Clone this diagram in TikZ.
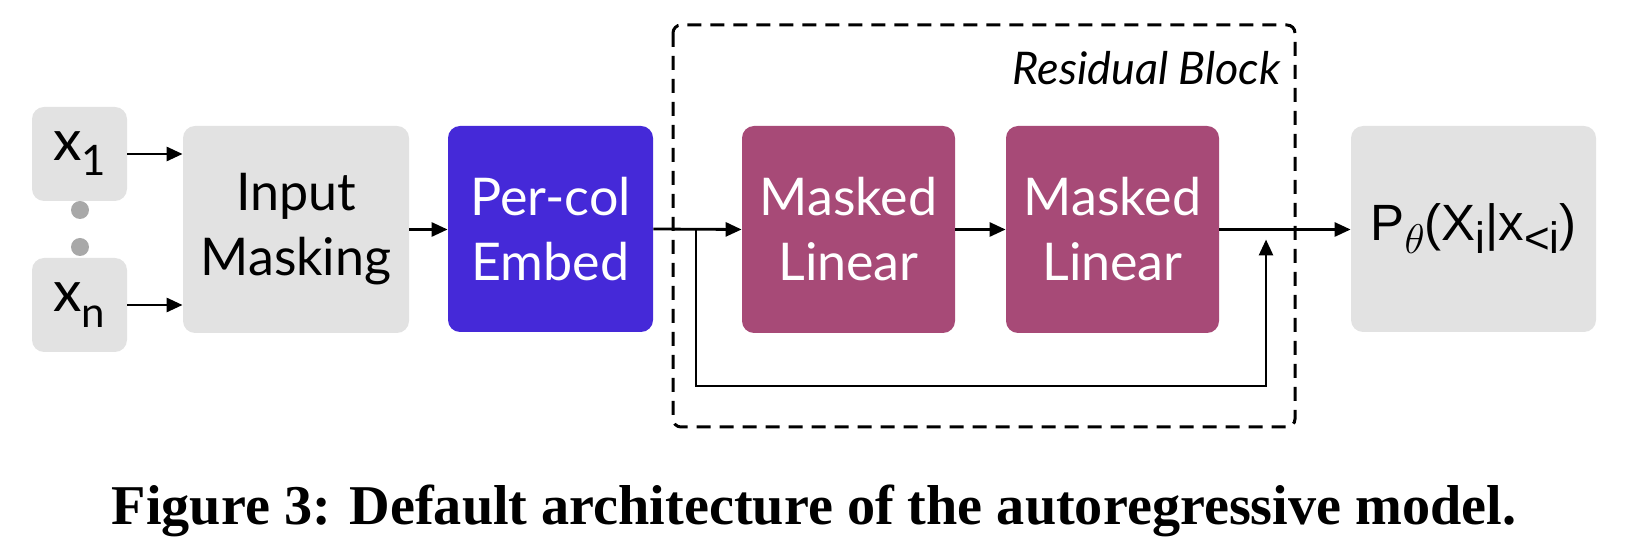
\documentclass[tikz,border=0pt]{standalone}
\usepackage{fontspec}
\setmainfont{Lato}
\newfontfamily\helv{Liberation Sans}
\newfontfamily\capfont{Liberation Serif}
\usetikzlibrary{arrows.meta}
\definecolor{boxgray}{HTML}{E2E2E2}
\definecolor{dotgray}{HTML}{A8A8A8}
\definecolor{embblue}{HTML}{4529D8}
\definecolor{mlpurple}{HTML}{A74A77}
\newcommand{\lsub}[2]{\raisebox{-#2}{\fontsize{21}{21}\selectfont #1}}
\newcommand{\osub}[1]{\raisebox{-6.5pt}{\fontsize{22}{22}\selectfont #1}}
\tikzset{
  blk/.style={rounded corners=6pt, inner sep=0pt, align=center, font=\fontsize{26}{32.5}\selectfont},
  graybox/.style={blk, fill=boxgray, text=black},
  bluebox/.style={blk, fill=embblue, text=white},
  purplebox/.style={blk, fill=mlpurple, text=white},
  conn/.style={line width=1.4pt, -{Triangle[length=8pt,width=7pt]}},
  dotc/.style={circle, fill=dotgray, inner sep=0pt, minimum size=9pt},
}
\begin{document}
\begin{tikzpicture}[x=0.5pt,y=-0.5pt]
\useasboundingbox (0,0) rectangle (1626,560);
% input boxes
\node[graybox, minimum width=47.5pt, minimum height=47pt] (x1) at (79.5,154) {\fontsize{28.5}{30}\selectfont x\lsub{1}{7.5pt}};
\node[graybox, minimum width=47.5pt, minimum height=47pt] (xn) at (79.5,305) {\fontsize{28.5}{30}\selectfont x\lsub{n}{8pt}};
\node[dotc] (d1) at (80,210) {};
\node[dotc] (d2) at (80,247) {};
\node[graybox, minimum width=113pt, minimum height=103.5pt] (mask) at (296,229.5) {Input\\Masking};
\node[bluebox, minimum width=102.5pt, minimum height=103pt] (emb) at (550.5,229) {Per-col\\Embed};
\node[purplebox, minimum width=106.5pt, minimum height=103.5pt] (ml1) at (848.5,229.5) {Masked\\Linear};
\node[purplebox, minimum width=106.5pt, minimum height=103.5pt] (ml2) at (1112.5,229.5) {Masked\\Linear};
\node[graybox, minimum width=122.5pt, minimum height=103pt] (out) at (1473.5,229) {\helv\fontsize{25.5}{28}\selectfont P\osub{$\theta$}(X\osub{i}|x\osub{<i})};
% residual block frame
\draw[line width=1.5pt, dash pattern=on 7pt off 4.5pt, rounded corners=4pt] (673,25) rectangle (1295,427);
\node[anchor=base east, inner sep=0pt, font=\fontsize{22.5}{25}\selectfont\itshape] (rb) at (1281,85) {Residual Block};
% connectors
\draw[conn] (x1.east) -- (x1.east -| mask.west);
\draw[conn] (xn.east) -- (xn.east -| mask.west);
\draw[conn] (mask.east) -- (mask.east -| emb.west);
\draw[conn] (emb.east) -- (ml1.west);
\draw[conn] (ml1.east) -- (ml2.west);
\draw[conn] (ml2.east) -- (ml2.east -| out.west);
\coordinate (br) at (696,229.5);
\coordinate (jn) at (1266,229.5);
\draw[conn, shorten >=5pt] (br) -- (696,386) -| (jn);
% caption
\node[inner sep=0pt, anchor=base] (cap) at (814,524) {\resizebox{702pt}{!}{\capfont\bfseries Figure 3: Default architecture of the autoregressive model.}};
\end{tikzpicture}
\end{document}
